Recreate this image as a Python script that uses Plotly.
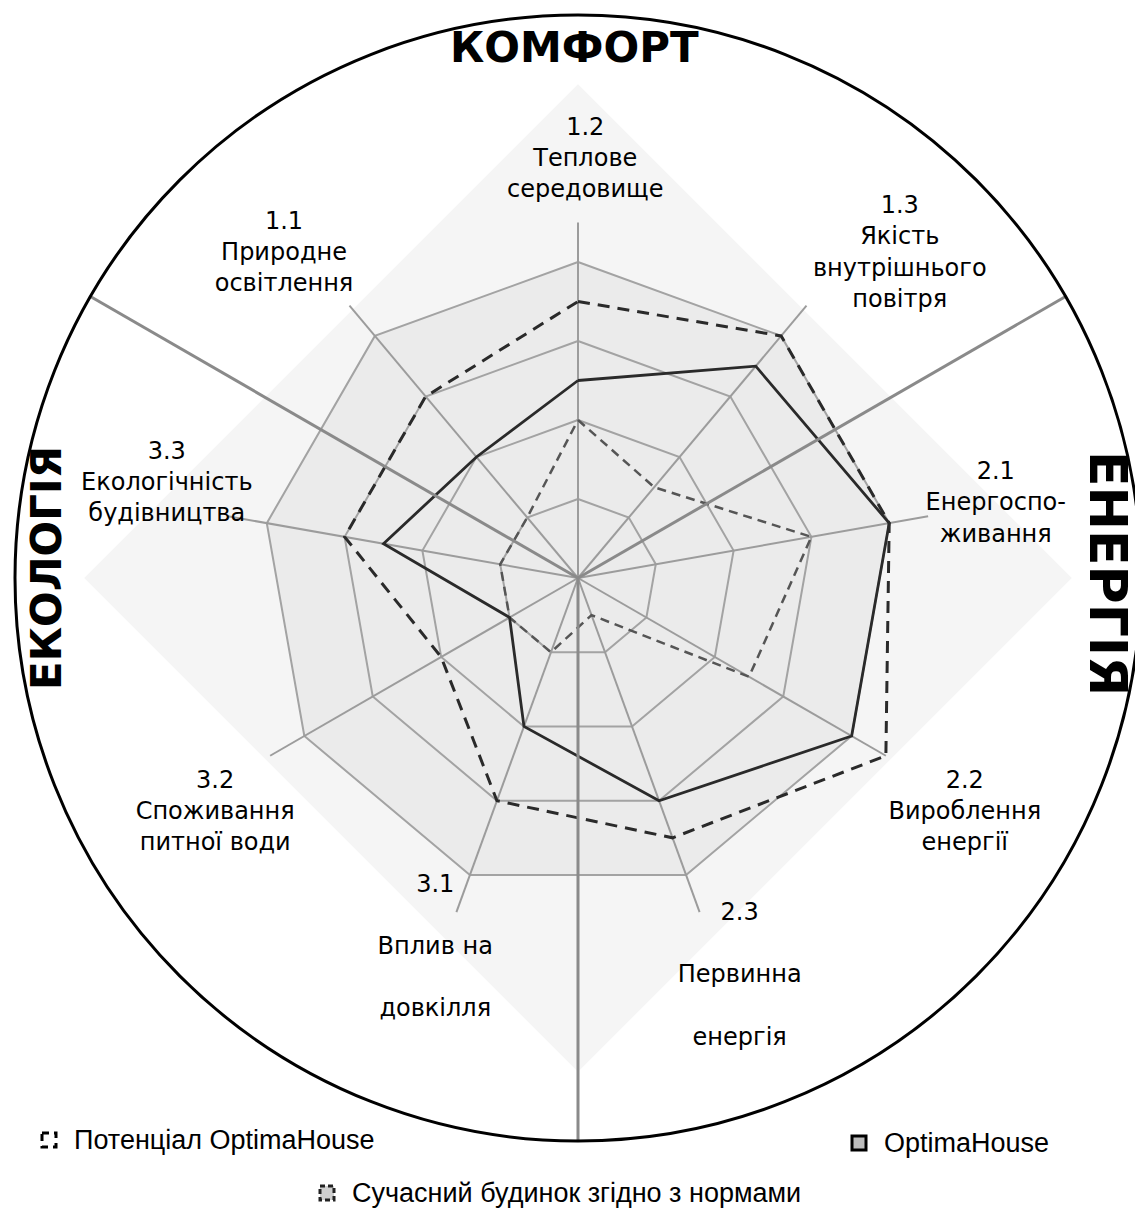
import plotly.graph_objects as go

W, H = 1143, 1225

# axes, clockwise from the top
CATEGORIES = ["1.2", "1.3", "2.1", "2.2", "2.3", "3.1", "3.2", "3.3", "1.1"]
AXIS_LABELS = [
    "1.2<br>Теплове<br>середовище",
    "1.3<br>Якість<br>внутрішнього<br>повітря",
    "2.1<br>Енергоспо-<br>живання",
    "2.2<br>Вироблення<br>енергії",
    "2.3<br><br>Первинна<br><br>енергія",
    "3.1<br><br>Вплив на<br><br>довкілля",
    "3.2<br>Споживання<br>питної води",
    "3.3<br>Екологічність<br>будівництва",
    "1.1<br>Природне<br>освітлення",
]

OPTIMA = [2.5, 3.5, 4.0, 4.0, 3.0, 2.0, 1.0, 2.5, 2.0]
POTENTIAL = [3.5, 4.0, 4.0, 4.5, 3.5, 3.0, 2.0, 3.0, 3.0]
MODERN = [2.0, 1.5, 3.0, 2.5, 0.5, 1.0, 1.0, 1.0, 1.0]

GRID_LEVELS = [1, 2, 3, 4]
SPOKE_MAX = 4.5

SECTIONS = ["КОМФОРТ", "ЕНЕРГІЯ", "ЕКОЛОГІЯ"]
SECTION_BORDERS = [60, 180, 300]  # degrees, clockwise from top

LEGEND_NAMES = ["Потенціал OptimaHouse", "OptimaHouse", "Сучасний будинок згідно з нормами"]

# label placement around each axis (radius in axis units, angular nudge in degrees)
LABEL_R = [5.29, 5.78, 5.37, 5.73, 5.44, 5.02, 5.47, 5.34, 5.54]
LABEL_SHIFT = [1.0, 4.8, 0.0, 1.3, -2.1, 1.1, -2.9, 2.9, -2.2]

# geometry of the picture (pixels of the page)
OFFSET = 8  # page margin around the figure
CX, CY = 578, 578
R_CIRCLE = 563
UNIT = 79.0
R_MAX = R_CIRCLE / UNIT
BACKDROP_R = 6.25

n = len(CATEGORIES)
theta = [i * 360.0 / n for i in range(n)]


def closed(vals):
    return list(vals) + [vals[0]]


def px(x):
    return (x - OFFSET) / W


def py(y):
    return 1 - (y - OFFSET) / H


fig = go.Figure()

# faint diamond backdrop
fig.add_trace(go.Scatterpolar(
    r=[BACKDROP_R] * 5, theta=[0, 90, 180, 270, 0],
    mode="lines", fill="toself", fillcolor="#f5f5f5",
    line=dict(width=0), hoverinfo="skip", showlegend=False,
))

# inner shaded nonagon
fig.add_trace(go.Scatterpolar(
    r=closed([GRID_LEVELS[-1]] * n), theta=closed(theta),
    mode="lines", fill="toself", fillcolor="#ebebeb",
    line=dict(width=0), hoverinfo="skip", showlegend=False,
))

# grid rings
ring_r, ring_t = [], []
for lv in GRID_LEVELS:
    ring_r += closed([lv] * n) + [None]
    ring_t += closed(theta) + [None]
fig.add_trace(go.Scatterpolar(
    r=ring_r, theta=ring_t, mode="lines",
    line=dict(color="#a3a3a3", width=2), hoverinfo="skip", showlegend=False,
))

# spokes
sp_r, sp_t = [], []
for t in theta:
    sp_r += [0, SPOKE_MAX, None]
    sp_t += [t, t, None]
fig.add_trace(go.Scatterpolar(
    r=sp_r, theta=sp_t, mode="lines",
    line=dict(color="#9c9c9c", width=2), hoverinfo="skip", showlegend=False,
))

# series
fig.add_trace(go.Scatterpolar(
    r=closed(MODERN), theta=closed(theta), mode="lines",
    line=dict(color="#555555", width=2.5, dash="9px,6px"),
    name=LEGEND_NAMES[2], showlegend=False,
))
fig.add_trace(go.Scatterpolar(
    r=closed(POTENTIAL), theta=closed(theta), mode="lines",
    line=dict(color="#2a2a2a", width=3, dash="12px,8px"),
    name=LEGEND_NAMES[0], showlegend=False,
))
fig.add_trace(go.Scatterpolar(
    r=closed(OPTIMA), theta=closed(theta), mode="lines",
    line=dict(color="#2a2a2a", width=2.8),
    name=LEGEND_NAMES[1], showlegend=False,
))

# section borders
sb_r, sb_t = [], []
for t in SECTION_BORDERS:
    sb_r += [0, R_MAX, None]
    sb_t += [t, t, None]
fig.add_trace(go.Scatterpolar(
    r=sb_r, theta=sb_t, mode="lines",
    line=dict(color="#8a8a8a", width=3), hoverinfo="skip", showlegend=False,
))

# axis labels
fig.add_trace(go.Scatterpolar(
    r=LABEL_R, theta=[t + s for t, s in zip(theta, LABEL_SHIFT)],
    mode="text", text=AXIS_LABELS, textposition="middle center",
    textfont=dict(family="DejaVu Sans", size=24, color="black"),
    hoverinfo="skip", showlegend=False,
))

fig.update_layout(
    width=W, height=H,
    margin=dict(l=0, r=0, t=0, b=0),
    paper_bgcolor="white",
    showlegend=False,
    polar=dict(
        domain=dict(x=[px(CX - R_CIRCLE), px(CX + R_CIRCLE)],
                    y=[py(CY + R_CIRCLE), py(CY - R_CIRCLE)]),
        bgcolor="rgba(0,0,0,0)",
        radialaxis=dict(range=[0, R_MAX], visible=False),
        angularaxis=dict(direction="clockwise", rotation=90,
                         showgrid=False, showticklabels=False, ticks="",
                         showline=True, linecolor="black", linewidth=3),
    ),
)

# section titles
titles = [
    (574, 47, SECTIONS[0], 42, 0),
    (1108, 573, SECTIONS[1], 52, 90),
    (47, 568, SECTIONS[2], 42, -90),
]
for x0, y0, txt, size, ang in titles:
    fig.add_annotation(x=px(x0), y=py(y0), xref="paper", yref="paper",
                       xanchor="center", yanchor="middle",
                       text="<b>%s</b>" % txt, showarrow=False, textangle=ang,
                       font=dict(family="DejaVu Sans", size=size, color="black"))

# legend
leg_font = dict(family="Liberation Sans", size=27, color="black")
legend_items = [
    (72, 1140, LEGEND_NAMES[0], "black", "7px,5px", "white"),
    (882, 1143, LEGEND_NAMES[1], "black", "solid", "#bdbdbd"),
    (350, 1193, LEGEND_NAMES[2], "#222222", "5px,3px", "#cfcfcf"),
]
for x0, y0, name, lc, dash, fc in legend_items:
    fig.add_shape(type="rect", xref="paper", yref="paper",
                  x0=px(x0 - 30), x1=px(x0 - 16), y0=py(y0 - 7), y1=py(y0 + 7),
                  line=dict(color=lc, width=3, dash=dash), fillcolor=fc)
    fig.add_annotation(x=px(x0), y=py(y0), xref="paper", yref="paper",
                       xanchor="left", yanchor="middle",
                       text=name, showarrow=False, font=leg_font)

fig.write_html("out.html")
